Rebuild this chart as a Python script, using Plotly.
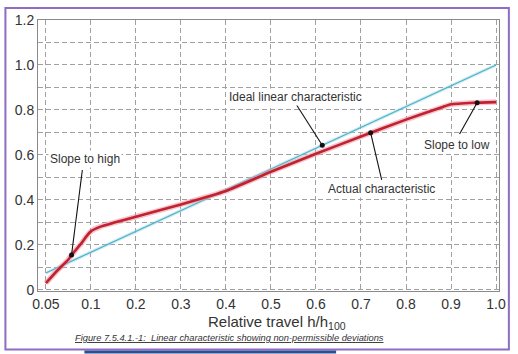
import numpy as np
import plotly.graph_objects as go

# ---- data -------------------------------------------------------------
tick_travel = [0.05, 0.1, 0.2, 0.3, 0.4, 0.5, 0.6, 0.7, 0.8, 0.9, 1.0]
tick_labels = ["0.05", "0.1", "0.2", "0.3", "0.4", "0.5", "0.6", "0.7", "0.8", "0.9", "1.0"]
y_tick_vals = [0, 0.2, 0.4, 0.6, 0.8, 1.0, 1.2]
y_tick_labels = ["0", "0.2", "0.4", "0.6", "0.8", "1.0", "1.2"]

ideal_travel = [0.05, 1.0]
ideal_value = [0.075, 1.0]

actual_travel = [0.05, 0.0625, 0.075, 0.0785, 0.09, 0.095, 0.1, 0.12, 0.15, 0.2,
                 0.3, 0.4, 0.5, 0.6, 0.7, 0.8, 0.88, 0.9, 0.95, 1.0]
actual_value = [0.03, 0.085, 0.135, 0.155, 0.21, 0.238, 0.26, 0.28, 0.298, 0.325,
                0.38, 0.44, 0.525, 0.605, 0.682, 0.757, 0.812, 0.825, 0.832, 0.835]

ann_labels = ["Ideal linear characteristic", "Actual characteristic", "Slope to low", "Slope to high"]
ann_series = ["ideal", "actual", "actual", "actual"]
ann_point_travel = [0.614, 0.7215, 0.958, 0.0785]
ann_text_pos = [0.555, 0.746, 0.914, 0.088]
ann_text_y = [0.858, 0.449, 0.644, 0.582]
ann_tail_pos = [0.557, 0.746, 0.919, 0.081]
ann_tail_y = [0.822, 0.489, 0.693, 0.533]


# Category-like x axis: 0.05 sits one step left of 0.1
def pos(x):
    x = np.asarray(x, dtype=float)
    return np.where(x < 0.1, (x - 0.05) * 2, x)


FONT = "Liberation Sans, Arial, sans-serif"
TXT = "#333333"
GRID = "#a0a0a0"

fig = go.Figure()

ix = pos(ideal_travel)
ax_ = pos(actual_travel)

# ideal line (with faint halo)
fig.add_trace(go.Scatter(x=ix, y=ideal_value, mode="lines",
                         line=dict(color="rgba(150,215,230,0.45)", width=3.5),
                         hoverinfo="skip", showlegend=False))
fig.add_trace(go.Scatter(x=ix, y=ideal_value, mode="lines",
                         line=dict(color="#4fb0c6", width=1.2), showlegend=False))

# actual characteristic (with pink halo)
fig.add_trace(go.Scatter(x=ax_, y=actual_value, mode="lines",
                         line=dict(color="rgba(235,150,165,0.55)", width=5.5, shape="spline", smoothing=0.5),
                         hoverinfo="skip", showlegend=False))
fig.add_trace(go.Scatter(x=ax_, y=actual_value, mode="lines",
                         line=dict(color="#c0232f", width=2.6, shape="spline", smoothing=0.5),
                         showlegend=False))

# annotation leader lines + dots
for lab, ser, pt, tp, ty, tlp, tly in zip(ann_labels, ann_series, ann_point_travel,
                                          ann_text_pos, ann_text_y, ann_tail_pos, ann_tail_y):
    px = float(pos(pt))
    if ser == "ideal":
        py = float(np.interp(px, ix, ideal_value))
    else:
        py = float(np.interp(px, ax_, actual_value))
    fig.add_trace(go.Scatter(x=[tlp, px], y=[tly, py], mode="lines",
                             line=dict(color="#111111", width=1.1), showlegend=False, hoverinfo="skip"))
    fig.add_trace(go.Scatter(x=[px], y=[py], mode="markers",
                             marker=dict(color="#111111", size=5), showlegend=False))
    fig.add_annotation(x=tp, y=ty, xref="x", yref="y", text=lab, showarrow=False,
                       font=dict(family=FONT, size=12, color=TXT), bgcolor="white")

# axis title and caption
fig.add_annotation(x=(280 - 38) / 467, y=(291 - 323) / 273, xref="paper", yref="paper",
                   text="Relative travel h/h<sub>100</sub>", showarrow=False,
                   font=dict(family=FONT, size=15, color=TXT), xanchor="center", yanchor="middle")
fig.add_annotation(x=(232 - 38) / 467, y=(291 - 338) / 273, xref="paper", yref="paper",
                   text="<u><i>Figure 7.5.4.1.-1:  Linear characteristic showing non-permissible deviations</i></u>",
                   showarrow=False, font=dict(family=FONT, size=9.3, color=TXT),
                   xanchor="center", yanchor="middle")

# outer purple frame and bottom blue strip
fig.add_shape(type="rect", xref="paper", yref="paper",
              x0=(5 - 38) / 467, x1=(515 - 38) / 467, y0=(291 - 350) / 273, y1=(291 - 6) / 273,
              line=dict(color="#8e6cc2", width=2), layer="below")
fig.add_shape(type="rect", xref="paper", yref="paper",
              x0=(85 - 38) / 467, x1=(340 - 38) / 467, y0=(291 - 354) / 273, y1=(291 - 351) / 273,
              line=dict(width=0), fillcolor="#2c4f94", layer="below")

fig.update_layout(
    width=518, height=354,
    margin=dict(l=38, r=13, t=18, b=63),
    paper_bgcolor="white", plot_bgcolor="white",
    font=dict(family=FONT, size=14, color=TXT),
    showlegend=False,
)
fig.update_xaxes(range=[-0.0175, 1.0066], tickmode="array",
                 tickvals=list(pos(tick_travel)), ticktext=tick_labels,
                 showgrid=True, gridcolor=GRID, griddash="5px,3px", gridwidth=1,
                 showline=True, linecolor="#8a8a8a", linewidth=1, mirror=True,
                 ticks="", zeroline=False, tickfont=dict(size=14, color=TXT))
fig.update_yaxes(range=[-0.005, 1.2], tickmode="array",
                 tickvals=y_tick_vals, ticktext=y_tick_labels,
                 showgrid=True, gridcolor=GRID, griddash="5px,3px", gridwidth=1,
                 minor=dict(dtick=0.1, tick0=0, showgrid=True, gridcolor=GRID, griddash="5px,3px", gridwidth=1),
                 showline=True, linecolor="#8a8a8a", linewidth=1, mirror=True,
                 ticks="", zeroline=False, tickfont=dict(size=14, color=TXT))

fig.write_html("out.html")
